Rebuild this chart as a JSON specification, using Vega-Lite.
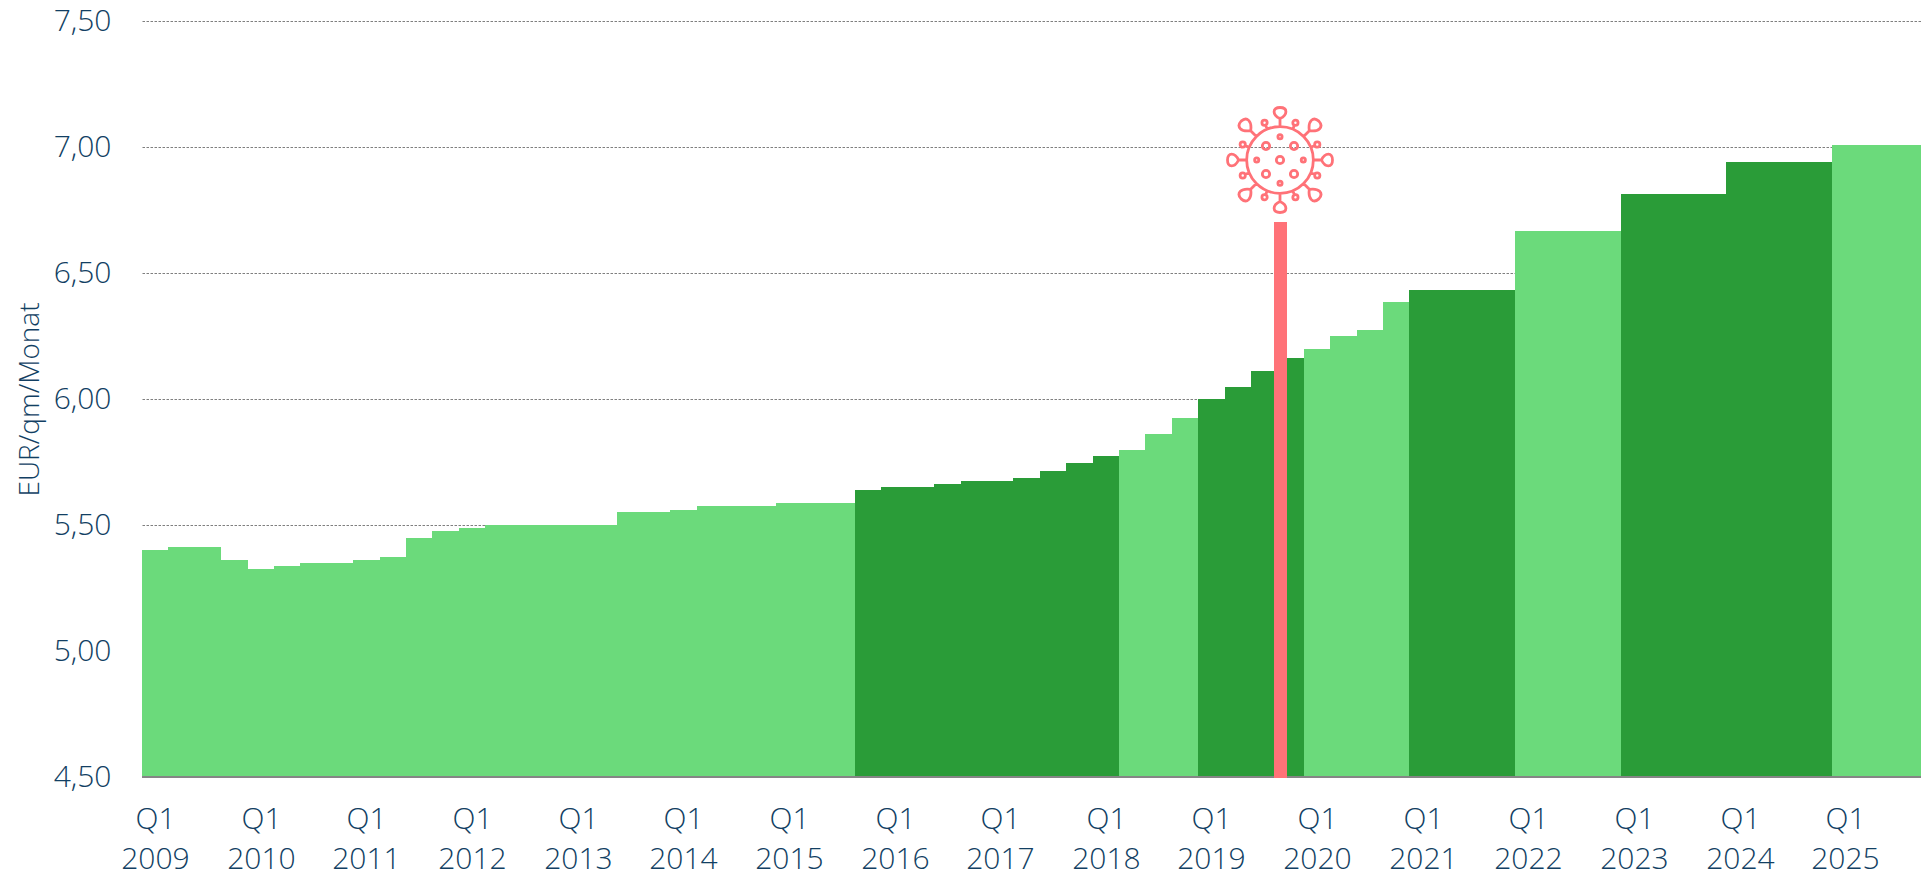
{
"$schema":"https://vega.github.io/schema/vega-lite/v6.json",
"autosize":{"type":"none"},
"width":1779,"height":756,
"padding":{"left":142,"top":21,"right":0,"bottom":99},
"background":"white",
"config":{"view":{"stroke":null},"font":"Open Sans"},
"datasets":{
"bars":[
{"start":2009.0,"end":2009.25,"value":5.402,"phase":"hell"},
{"start":2009.25,"end":2009.5,"value":5.414,"phase":"hell"},
{"start":2009.5,"end":2009.75,"value":5.414,"phase":"hell"},
{"start":2009.75,"end":2010.0,"value":5.362,"phase":"hell"},
{"start":2010.0,"end":2010.25,"value":5.327,"phase":"hell"},
{"start":2010.25,"end":2010.5,"value":5.339,"phase":"hell"},
{"start":2010.5,"end":2010.75,"value":5.35,"phase":"hell"},
{"start":2010.75,"end":2011.0,"value":5.35,"phase":"hell"},
{"start":2011.0,"end":2011.25,"value":5.362,"phase":"hell"},
{"start":2011.25,"end":2011.5,"value":5.374,"phase":"hell"},
{"start":2011.5,"end":2011.75,"value":5.45,"phase":"hell"},
{"start":2011.75,"end":2012.0,"value":5.478,"phase":"hell"},
{"start":2012.0,"end":2012.25,"value":5.489,"phase":"hell"},
{"start":2012.25,"end":2012.5,"value":5.5,"phase":"hell"},
{"start":2012.5,"end":2012.75,"value":5.5,"phase":"hell"},
{"start":2012.75,"end":2013.0,"value":5.5,"phase":"hell"},
{"start":2013.0,"end":2013.25,"value":5.5,"phase":"hell"},
{"start":2013.25,"end":2013.5,"value":5.5,"phase":"hell"},
{"start":2013.5,"end":2013.75,"value":5.552,"phase":"hell"},
{"start":2013.75,"end":2014.0,"value":5.552,"phase":"hell"},
{"start":2014.0,"end":2014.25,"value":5.561,"phase":"hell"},
{"start":2014.25,"end":2014.5,"value":5.576,"phase":"hell"},
{"start":2014.5,"end":2014.75,"value":5.576,"phase":"hell"},
{"start":2014.75,"end":2015.0,"value":5.576,"phase":"hell"},
{"start":2015.0,"end":2015.25,"value":5.588,"phase":"hell"},
{"start":2015.25,"end":2015.5,"value":5.588,"phase":"hell"},
{"start":2015.5,"end":2015.75,"value":5.588,"phase":"hell"},
{"start":2015.75,"end":2016.0,"value":5.637,"phase":"dunkel"},
{"start":2016.0,"end":2016.25,"value":5.649,"phase":"dunkel"},
{"start":2016.25,"end":2016.5,"value":5.649,"phase":"dunkel"},
{"start":2016.5,"end":2016.75,"value":5.661,"phase":"dunkel"},
{"start":2016.75,"end":2017.0,"value":5.674,"phase":"dunkel"},
{"start":2017.0,"end":2017.25,"value":5.674,"phase":"dunkel"},
{"start":2017.25,"end":2017.5,"value":5.686,"phase":"dunkel"},
{"start":2017.5,"end":2017.75,"value":5.713,"phase":"dunkel"},
{"start":2017.75,"end":2018.0,"value":5.748,"phase":"dunkel"},
{"start":2018.0,"end":2018.25,"value":5.775,"phase":"dunkel"},
{"start":2018.25,"end":2018.5,"value":5.799,"phase":"hell"},
{"start":2018.5,"end":2018.75,"value":5.862,"phase":"hell"},
{"start":2018.75,"end":2019.0,"value":5.926,"phase":"hell"},
{"start":2019.0,"end":2019.25,"value":6.0,"phase":"dunkel"},
{"start":2019.25,"end":2019.5,"value":6.049,"phase":"dunkel"},
{"start":2019.5,"end":2019.75,"value":6.111,"phase":"dunkel"},
{"start":2019.75,"end":2020.0,"value":6.161,"phase":"dunkel"},
{"start":2020.0,"end":2020.25,"value":6.198,"phase":"hell"},
{"start":2020.25,"end":2020.5,"value":6.25,"phase":"hell"},
{"start":2020.5,"end":2020.75,"value":6.274,"phase":"hell"},
{"start":2020.75,"end":2021.0,"value":6.385,"phase":"hell"},
{"start":2021.0,"end":2022.0,"value":6.432,"phase":"dunkel"},
{"start":2022.0,"end":2023.0,"value":6.668,"phase":"hell"},
{"start":2023.0,"end":2024.0,"value":6.812,"phase":"dunkel"},
{"start":2024.0,"end":2025.0,"value":6.939,"phase":"dunkel"},
{"start":2025.0,"end":2026.0,"value":7.009,"phase":"hell"}
],
"corona":[{"start":2019.7135,"end":2019.8415,"top":6.703,"base":4.495,"floor":4.5,"mid":2019.7775,"icon":6.949}]
},
"layer":[
{
"data":{"name":"bars"},
"mark":{"type":"bar","clip":true},
"encoding":{
"x":{"field":"start","type":"quantitative","scale":{"domain":[2009,2025.843],"nice":false,"zero":false,"round":true},
"axis":{"title":null,"domain":false,"ticks":false,"grid":false,"labelAngle":0,"labelFont":"Open Sans","labelFontWeight":300,"labelFontSize":30,"labelColor":"#123F63","labelPadding":27,"labelLineHeight":40,"labelOverlap":false,"labelFlush":false,"labelBound":false,
"values":[2009.125,2010.125,2011.125,2012.125,2013.125,2014.125,2015.125,2016.125,2017.125,2018.125,2019.125,2020.125,2021.125,2022.125,2023.125,2024.125,2025.125],
"labelExpr":"['Q1', format(floor(datum.value),'d')]"}},
"x2":{"field":"end"},
"y":{"field":"value","type":"quantitative","title":"EUR/qm/Monat","scale":{"domain":[4.5,7.5],"nice":false,"zero":false,"round":true},
"axis":{"titleFont":"Open Sans","titleFontWeight":300,"titleFontSize":28,"titleColor":"#123F63","titleX":-104,"titleBaseline":"alphabetic","domain":false,"ticks":false,"grid":true,"gridColor":"#7F7F7F","gridDash":[2.5,1.5],"gridWidth":1,"labelFont":"Open Sans","labelFontWeight":300,"labelFontSize":30,"labelColor":"#123F63","labelPadding":31,"labelOverlap":false,"labelBound":false,"labelFlush":false,
"values":[4.5,5,5.5,6,6.5,7,7.5],
"labelExpr":"replace(format(datum.value,'.2f'),'.',',')"}},
"y2":{"datum":4.5},
"color":{"field":"phase","type":"nominal","scale":{"domain":["hell","dunkel"],"range":["#6BDA7B","#2A9C38"]},"legend":null}
}
},
{
"data":{"name":"corona"},
"mark":{"type":"rule","color":"#858585","strokeWidth":2},
"encoding":{"y":{"field":"floor","type":"quantitative","title":"EUR/qm/Monat"}}
},
{
"data":{"name":"corona"},
"mark":{"type":"bar","color":"#FF7278"},
"encoding":{
"x":{"field":"start","type":"quantitative","title":null},
"x2":{"field":"end"},
"y":{"field":"top","type":"quantitative","title":"EUR/qm/Monat"},
"y2":{"field":"base"}
}
},
{
"data":{"name":"corona"},
"mark":{"type":"point","filled":false,"opacity":1,"color":"#FF7278","strokeWidth":2.8,"size":11025,
"shape":"M-0.635,0 a0.635,0.635 0 1,0 1.27,0 a0.635,0.635 0 1,0 -1.27,0 M0,-0.635 L0,-0.79 C0.15,-0.86 0.15,-1 0,-1 C-0.15,-1 -0.15,-0.86 0,-0.79 M0,0.635 L0,0.79 C0.15,0.86 0.15,1 0,1 C-0.15,1 -0.15,0.86 0,0.79 M0.635,0 L0.79,0 C0.86,0.15 1,0.15 1,0 C1,-0.15 0.86,-0.15 0.79,0 M-0.635,0 L-0.79,0 C-0.86,0.15 -1,0.15 -1,0 C-1,-0.15 -0.86,-0.15 -0.79,0 M0.449,-0.449 L0.559,-0.559 C0.74,-0.53 0.84,-0.63 0.74,-0.74 C0.63,-0.84 0.53,-0.74 0.559,-0.559 M-0.449,-0.449 L-0.559,-0.559 C-0.74,-0.53 -0.84,-0.63 -0.74,-0.74 C-0.63,-0.84 -0.53,-0.74 -0.559,-0.559 M0.449,0.449 L0.559,0.559 C0.74,0.53 0.84,0.63 0.74,0.74 C0.63,0.84 0.53,0.74 0.559,0.559 M-0.449,0.449 L-0.559,0.559 C-0.74,0.53 -0.84,0.63 -0.74,0.74 C-0.63,0.84 -0.53,0.74 -0.559,0.559 M0.243,-0.587 L0.272,-0.656 M0.244,-0.71 a0.05,0.05 0 1,0 0.1,0 a0.05,0.05 0 1,0 -0.1,0 M-0.243,-0.587 L-0.272,-0.656 M-0.344,-0.71 a0.05,0.05 0 1,0 0.1,0 a0.05,0.05 0 1,0 -0.1,0 M0.243,0.587 L0.272,0.656 M0.244,0.71 a0.05,0.05 0 1,0 0.1,0 a0.05,0.05 0 1,0 -0.1,0 M-0.243,0.587 L-0.272,0.656 M-0.344,0.71 a0.05,0.05 0 1,0 0.1,0 a0.05,0.05 0 1,0 -0.1,0 M0.587,-0.243 L0.656,-0.272 M0.66,-0.294 a0.05,0.05 0 1,0 0.1,0 a0.05,0.05 0 1,0 -0.1,0 M-0.587,-0.243 L-0.656,-0.272 M-0.76,-0.294 a0.05,0.05 0 1,0 0.1,0 a0.05,0.05 0 1,0 -0.1,0 M0.587,0.243 L0.656,0.272 M0.66,0.294 a0.05,0.05 0 1,0 0.1,0 a0.05,0.05 0 1,0 -0.1,0 M-0.587,0.243 L-0.656,0.272 M-0.76,0.294 a0.05,0.05 0 1,0 0.1,0 a0.05,0.05 0 1,0 -0.1,0 M-0.07,0 a0.07,0.07 0 1,0 0.14,0 a0.07,0.07 0 1,0 -0.14,0 M0.197,-0.267 a0.07,0.07 0 1,0 0.14,0 a0.07,0.07 0 1,0 -0.14,0 M-0.337,-0.267 a0.07,0.07 0 1,0 0.14,0 a0.07,0.07 0 1,0 -0.14,0 M0.197,0.267 a0.07,0.07 0 1,0 0.14,0 a0.07,0.07 0 1,0 -0.14,0 M-0.337,0.267 a0.07,0.07 0 1,0 0.14,0 a0.07,0.07 0 1,0 -0.14,0 M-0.04,-0.444 a0.04,0.04 0 1,0 0.08,0 a0.04,0.04 0 1,0 -0.08,0 M-0.04,0.444 a0.04,0.04 0 1,0 0.08,0 a0.04,0.04 0 1,0 -0.08,0 M0.404,0 a0.04,0.04 0 1,0 0.08,0 a0.04,0.04 0 1,0 -0.08,0 M-0.484,0 a0.04,0.04 0 1,0 0.08,0 a0.04,0.04 0 1,0 -0.08,0"},
"encoding":{
"x":{"field":"mid","type":"quantitative","title":null},
"y":{"field":"icon","type":"quantitative","title":"EUR/qm/Monat"}
}
}
]
}
